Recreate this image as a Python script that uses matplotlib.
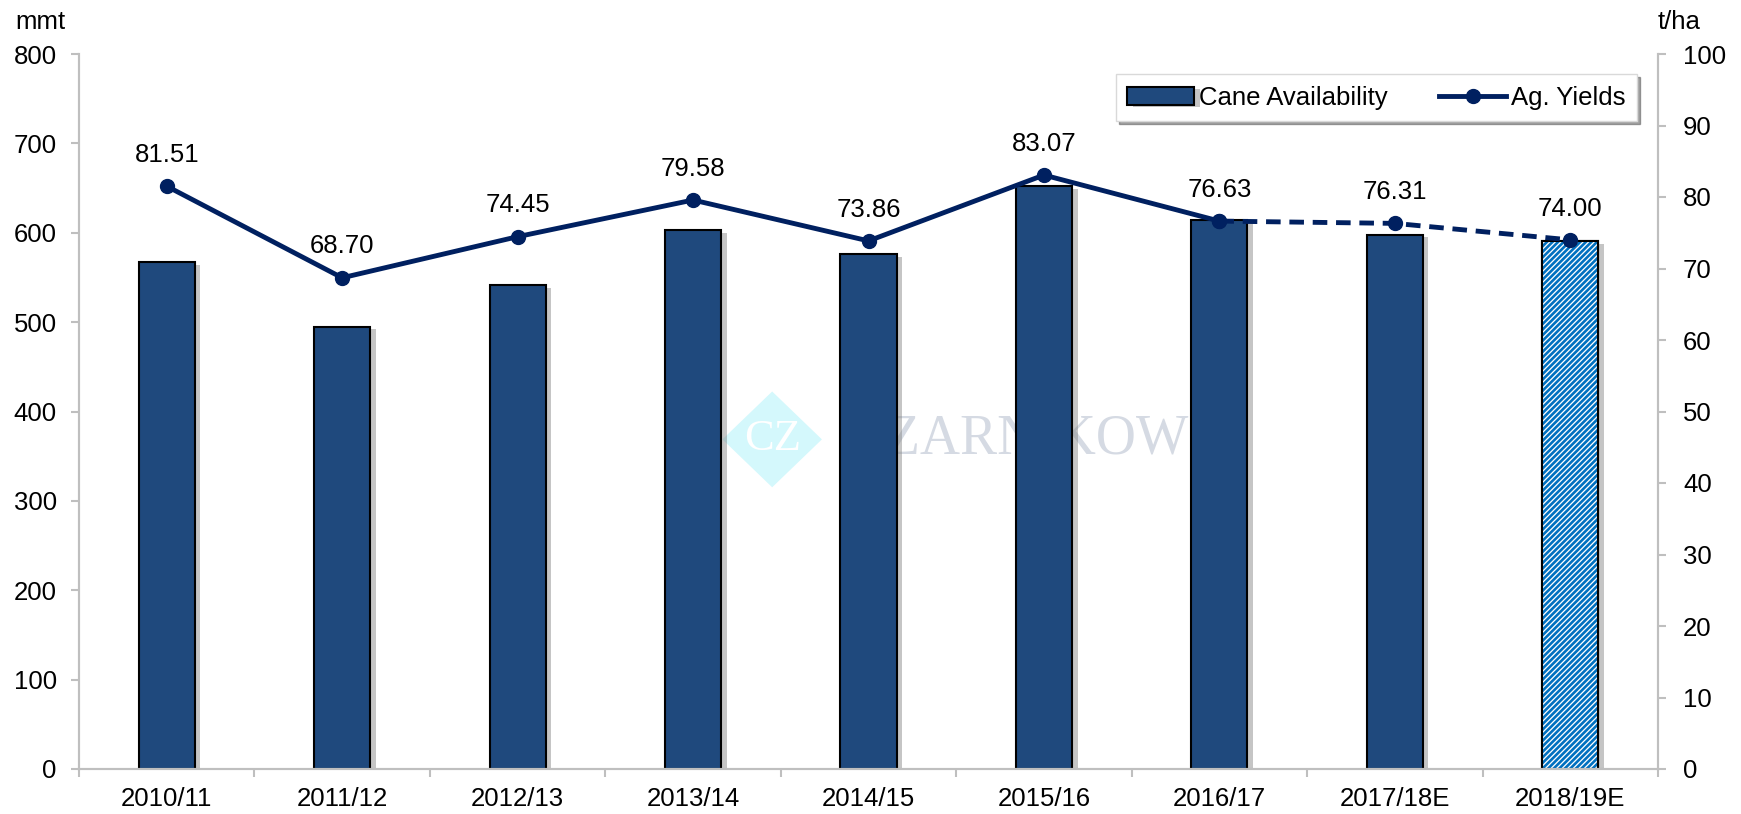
import matplotlib
matplotlib.use("Agg")
from matplotlib import pyplot as plt
from matplotlib import patheffects as pe
from matplotlib.patches import Polygon

plt.rcParams['font.family'] = ['Liberation Sans', 'DejaVu Sans']
plt.rcParams['hatch.linewidth'] = 1.9

seasons = ['2010/11', '2011/12', '2012/13', '2013/14', '2014/15',
           '2015/16', '2016/17', '2017/18E', '2018/19E']
cane = [567, 495, 541, 603, 576, 652, 614, 598, 591]
yields = [81.51, 68.70, 74.45, 79.58, 73.86, 83.07, 76.63, 76.31, 74.00]

navy = '#1F497D'
line_col = '#002060'
axis_col = '#BFBFBF'
fs = 18.5

fig = plt.figure(figsize=(17.41, 8.14), dpi=100)
ax = fig.add_axes([79/1741, 45/814, (1658-79)/1741, (769-54)/814])
ax2 = ax.twinx()

x = list(range(len(seasons)))
shadow = [pe.SimplePatchShadow(offset=(4, -2), shadow_rgbFace='#7F7F7F', alpha=0.45), pe.Normal()]

# watermark
cx, cy, hw, hh = 0.439, 0.461, 0.0315, 0.067
ax.add_patch(Polygon([[cx - hw, cy], [cx, cy - hh], [cx + hw, cy], [cx, cy + hh]], closed=True,
                     transform=ax.transAxes, facecolor='#D4F8FC', edgecolor='none', zorder=0))
ax.text(cx, cy, 'CZ', transform=ax.transAxes, fontsize=32, family='Liberation Serif',
        color='white', ha='center', va='center', zorder=0.5)
ax.text(0.488, cy, 'CZARNIKOW', transform=ax.transAxes, fontsize=40, family='Liberation Serif',
        color='#D5DAE3', ha='left', va='center', zorder=0.5)

w = 0.32
bars = ax.bar(x[:-1], cane[:-1], width=w, color=navy, edgecolor='black', linewidth=1.5,
              zorder=2, label='Cane Availability')
for b in bars:
    b.set_path_effects(shadow)
base = ax.bar(x[-1], cane[-1], width=w, color='white', edgecolor='black', linewidth=1.5, zorder=2)
base[0].set_path_effects(shadow)
ax.bar(x[-1], cane[-1], width=w, color='white', edgecolor='#0070C0', hatch='//////',
       linewidth=0, zorder=2.05)
ax.bar(x[-1], cane[-1], width=w, fill=False, edgecolor='black', linewidth=1.5, zorder=2.1)

ax2.plot(x[:7], yields[:7], color=line_col, lw=3.5, marker='o', ms=10, zorder=3,
         label='Ag. Yields')
ax2.plot(x[6:], yields[6:], color=line_col, lw=3.5, ls=(0, (3, 1.8)), marker='o', ms=10, zorder=3)
for xi, yi in zip(x, yields):
    ax2.text(xi, yi + 2.7, f'{yi:.2f}', ha='center', va='bottom', fontsize=fs)

ax.set_ylim(0, 800)
ax.set_yticks(range(0, 801, 100))
ax2.set_ylim(0, 100)
ax2.set_yticks(range(0, 101, 10))
ax.set_xlim(-0.5, len(seasons) - 0.5)
ax.set_xticks(x)
ax.set_xticklabels(seasons)
ax.set_xticks([i + 0.5 for i in range(-1, len(seasons))], minor=True)
ax.tick_params(axis='x', which='major', length=0, labelsize=fs, pad=13)
ax.tick_params(axis='x', which='minor', length=6, color=axis_col, width=1.5)
ax.tick_params(axis='y', length=6, color=axis_col, width=1.5, labelsize=fs, pad=10)
ax2.tick_params(axis='y', length=6, color=axis_col, width=1.5, labelsize=fs, pad=12)

for a in (ax, ax2):
    a.spines['top'].set_visible(False)
    for s in ('left', 'right', 'bottom'):
        a.spines[s].set_color(axis_col)
        a.spines[s].set_linewidth(1.5)
ax.set_zorder(ax2.get_zorder() - 1)
ax2.patch.set_visible(False)

fig.text(15/1741, 1 - 22/814, 'mmt', fontsize=fs, va='center')
fig.text(1658/1741, 1 - 22/814, 't/ha', fontsize=fs, va='center')

h1, l1 = ax.get_legend_handles_labels()
h2, l2 = ax2.get_legend_handles_labels()
leg = ax2.legend(h1 + h2, l1 + l2, ncol=2, loc='upper right', bbox_to_anchor=(0.995, 0.99),
                 fontsize=fs, frameon=True, fancybox=False, shadow=True, framealpha=1,
                 edgecolor='#D9D9D9', handlelength=2.6, columnspacing=2.0,
                 borderpad=0.45, handletextpad=0.2)

fig.savefig('out.png', dpi=100)
